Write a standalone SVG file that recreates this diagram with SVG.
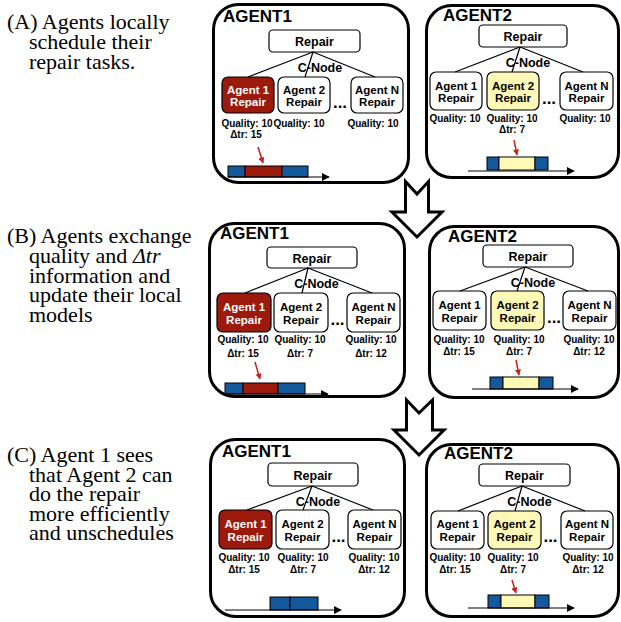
<svg xmlns="http://www.w3.org/2000/svg" width="621" height="622" viewBox="0 0 621 622">
<defs>
<style>
.panel{fill:#fff;stroke:#000;stroke-width:3}
.box{fill:#fff;stroke:#000;stroke-width:1.2}
.red{fill:#9B1A0C}
.yel{fill:#FFF9B8}
.blu{fill:#14599B;stroke:#000;stroke-width:1}
.rb{fill:#9B1A0C;stroke:#000;stroke-width:1}
.yb{fill:#FFF9B8;stroke:#000;stroke-width:1}
.t{font-family:"Liberation Sans",Arial,sans-serif;font-weight:bold;text-anchor:middle;fill:#000}
.ti{font-family:"Liberation Sans",Arial,sans-serif;font-weight:bold;font-size:17px;fill:#000}
.lb{font-size:12.5px}
.nd{font-size:11.5px}
.w{fill:#fff}
.q{font-size:10px}
.dots{font-size:17px}
.cap{font-family:"Liberation Serif","Times New Roman",serif;font-size:22px;fill:#000}
.ln{stroke:#000;stroke-width:1.2;fill:none}
.ax{stroke:#000;stroke-width:1.2;fill:none;marker-end:url(#ah)}
.ra{stroke:#C4221C;stroke-width:1.5;fill:none;marker-end:url(#rh)}
.big{fill:#fff;stroke:#000;stroke-width:3;stroke-linejoin:miter}
</style>
<marker id="ah" viewBox="0 0 10 10" refX="9" refY="5" markerWidth="8" markerHeight="8" markerUnits="userSpaceOnUse" orient="auto">
<path d="M0,0 L10,5 L0,10 Z" fill="#000"/>
</marker>
<marker id="rh" viewBox="0 0 10 10" refX="9" refY="5" markerWidth="6" markerHeight="6" markerUnits="userSpaceOnUse" orient="auto">
<path d="M0,0 L10,5 L0,10 Z" fill="#C4221C"/>
</marker>
</defs>
<rect width="621" height="622" fill="#fff"/>

<g id="captions">
<text class="cap"><tspan x="7" y="29">(A) Agents locally</tspan><tspan x="29" y="49">schedule their</tspan><tspan x="29" y="69">repair tasks.</tspan></text>
<text class="cap"><tspan x="7" y="243">(B) Agents exchange</tspan><tspan x="29" y="263">quality and <tspan font-style="italic">Δtr</tspan></tspan><tspan x="29" y="283">information and</tspan><tspan x="29" y="302">update their local</tspan><tspan x="29" y="322">models</tspan></text>
<text class="cap"><tspan x="7" y="462">(C) Agent 1 sees</tspan><tspan x="29" y="481.5">that Agent 2 can</tspan><tspan x="29" y="501">do the repair</tspan><tspan x="29" y="520.5">more efficiently</tspan><tspan x="29" y="540">and unschedules</tspan></text>
</g>

<!-- Panel A left -->
<g id="panelA1">
<rect class="panel" x="213.5" y="4.5" width="195" height="178" rx="25"/>
<text class="ti" x="223" y="22">AGENT1</text>
<g id="a1-repair"><rect class="box" x="269" y="30" width="91" height="22" rx="4"/><text class="t lb" x="314.5" y="46">Repair</text></g>
<text class="t lb" x="320" y="72">C-Node</text>
<g id="a1-ag1"><rect class="box red" x="222" y="77" width="52" height="36" rx="6"/><text class="t nd w" x="248" y="93.5">Agent 1</text><text class="t nd w" x="248" y="106">Repair</text></g>
<g id="a1-ag2"><rect class="box" x="278" y="77" width="52" height="36" rx="6"/><text class="t nd" x="304" y="93.5">Agent 2</text><text class="t nd" x="304" y="106">Repair</text></g>
<text class="t dots" x="340" y="108">...</text>
<g id="a1-agN"><rect class="box" x="351" y="77" width="52" height="36" rx="6"/><text class="t nd" x="377" y="93.5">Agent N</text><text class="t nd" x="377" y="106">Repair</text></g>
<text class="t q" x="247" y="127">Quality: 10</text>
<text class="t q" x="299" y="127">Quality: 10</text>
<text class="t q" x="373" y="127">Quality: 10</text>
<text class="t q" x="246" y="138">Δtr: 15</text>
<g id="a1-timeline">
<rect class="blu" x="228" y="166" width="17" height="11"/>
<rect class="rb" x="245" y="166" width="37" height="11"/>
<rect class="blu" x="282" y="166" width="26" height="11"/>
</g>
</g>

<!-- Panel A right -->
<g id="panelA2">
<rect class="panel" x="426.5" y="5.5" width="192" height="172" rx="25"/>
<text class="ti" x="443" y="21">AGENT2</text>
<g id="a2-repair"><rect class="box" x="479" y="25" width="88" height="22" rx="4"/><text class="t lb" x="523" y="41">Repair</text></g>
<text class="t lb" x="528" y="67">C-Node</text>
<g id="a2-ag1"><rect class="box" x="430" y="72" width="52" height="38" rx="6"/><text class="t nd" x="456" y="89.5">Agent 1</text><text class="t nd" x="456" y="102">Repair</text></g>
<g id="a2-ag2"><rect class="box yel" x="487" y="72" width="52" height="38" rx="6"/><text class="t nd" x="513" y="89.5">Agent 2</text><text class="t nd" x="513" y="102">Repair</text></g>
<text class="t dots" x="549" y="104">...</text>
<g id="a2-agN"><rect class="box" x="560" y="72" width="53" height="38" rx="6"/><text class="t nd" x="586.5" y="89.5">Agent N</text><text class="t nd" x="586.5" y="102">Repair</text></g>
<text class="t q" x="455" y="122">Quality: 10</text>
<text class="t q" x="512" y="122">Quality: 10</text>
<text class="t q" x="585" y="122">Quality: 10</text>
<text class="t q" x="512" y="133">Δtr: 7</text>
<g id="a2-timeline">
<rect class="blu" x="487" y="157" width="12" height="13"/>
<rect class="yb" x="499" y="157" width="36" height="13"/>
<rect class="blu" x="535" y="157" width="13" height="13"/>
</g>
</g>

<!-- Panel B left -->
<g id="panelB1">
<rect class="panel" x="209.5" y="223.5" width="195" height="173" rx="25"/>
<text class="ti" x="220" y="239">AGENT1</text>
<g id="b1-repair"><rect class="box" x="267" y="247" width="90" height="21" rx="4"/><text class="t lb" x="312" y="262.5">Repair</text></g>
<text class="t lb" x="316.5" y="288">C-Node</text>
<g id="b1-ag1"><rect class="box red" x="217" y="293" width="54" height="39" rx="6"/><text class="t nd w" x="244" y="311">Agent 1</text><text class="t nd w" x="244" y="324">Repair</text></g>
<g id="b1-ag2"><rect class="box" x="274" y="293" width="54" height="39" rx="6"/><text class="t nd" x="301" y="311">Agent 2</text><text class="t nd" x="301" y="324">Repair</text></g>
<text class="t dots" x="337.5" y="325">...</text>
<g id="b1-agN"><rect class="box" x="347" y="293" width="53" height="39" rx="6"/><text class="t nd" x="373.5" y="311">Agent N</text><text class="t nd" x="373.5" y="324">Repair</text></g>
<text class="t q" x="243" y="343">Quality: 10</text>
<text class="t q" x="300" y="343">Quality: 10</text>
<text class="t q" x="371" y="343">Quality: 10</text>
<text class="t q" x="243" y="357">Δtr: 15</text>
<text class="t q" x="300" y="357">Δtr: 7</text>
<text class="t q" x="371" y="357">Δtr: 12</text>
<g id="b1-timeline">
<rect class="blu" x="225" y="383" width="18" height="11"/>
<rect class="rb" x="243" y="383" width="35" height="11"/>
<rect class="blu" x="278" y="383" width="27" height="11"/>
</g>
</g>

<!-- Panel B right -->
<g id="panelB2">
<rect class="panel" x="429.5" y="226.5" width="189" height="171" rx="25"/>
<text class="ti" x="448" y="242">AGENT2</text>
<g id="b2-repair"><rect class="box" x="483" y="245" width="90" height="22" rx="4"/><text class="t lb" x="528" y="261">Repair</text></g>
<text class="t lb" x="533" y="287">C-Node</text>
<g id="b2-ag1"><rect class="box" x="433" y="291" width="53" height="39" rx="6"/><text class="t nd" x="459.5" y="309">Agent 1</text><text class="t nd" x="459.5" y="322">Repair</text></g>
<g id="b2-ag2"><rect class="box yel" x="491" y="291" width="53" height="39" rx="6"/><text class="t nd" x="517.5" y="309">Agent 2</text><text class="t nd" x="517.5" y="322">Repair</text></g>
<text class="t dots" x="554" y="323">...</text>
<g id="b2-agN"><rect class="box" x="563" y="291" width="53" height="39" rx="6"/><text class="t nd" x="589.5" y="309">Agent N</text><text class="t nd" x="589.5" y="322">Repair</text></g>
<text class="t q" x="459" y="343">Quality: 10</text>
<text class="t q" x="519" y="343">Quality: 10</text>
<text class="t q" x="589" y="343">Quality: 10</text>
<text class="t q" x="459" y="355">Δtr: 15</text>
<text class="t q" x="519" y="355">Δtr: 7</text>
<text class="t q" x="589" y="355">Δtr: 12</text>
<g id="b2-timeline">
<rect class="blu" x="490" y="377" width="13" height="12"/>
<rect class="yb" x="503" y="377" width="36" height="12"/>
<rect class="blu" x="539" y="377" width="14" height="12"/>
</g>
</g>

<!-- Panel C left -->
<g id="panelC1">
<rect class="panel" x="210.5" y="439.5" width="194" height="177" rx="25"/>
<text class="ti" x="222" y="457">AGENT1</text>
<g id="c1-repair"><rect class="box" x="268" y="463" width="90" height="23" rx="4"/><text class="t lb" x="313" y="479.5">Repair</text></g>
<text class="t lb" x="318" y="506">C-Node</text>
<g id="c1-ag1"><rect class="box red" x="219" y="510" width="53" height="39" rx="6"/><text class="t nd w" x="245.5" y="528">Agent 1</text><text class="t nd w" x="245.5" y="541">Repair</text></g>
<g id="c1-ag2"><rect class="box" x="276" y="510" width="53" height="39" rx="6"/><text class="t nd" x="302.5" y="528">Agent 2</text><text class="t nd" x="302.5" y="541">Repair</text></g>
<text class="t dots" x="338.5" y="542">...</text>
<g id="c1-agN"><rect class="box" x="348" y="510" width="53" height="39" rx="6"/><text class="t nd" x="374.5" y="528">Agent N</text><text class="t nd" x="374.5" y="541">Repair</text></g>
<text class="t q" x="244" y="561">Quality: 10</text>
<text class="t q" x="303" y="561">Quality: 10</text>
<text class="t q" x="374" y="561">Quality: 10</text>
<text class="t q" x="244" y="573">Δtr: 15</text>
<text class="t q" x="303" y="573">Δtr: 7</text>
<text class="t q" x="374" y="573">Δtr: 12</text>
<g id="c1-timeline">
<rect class="blu" x="270" y="597" width="20" height="13"/>
<rect class="blu" x="290" y="597" width="28" height="13"/>
</g>
</g>

<!-- Panel C right -->
<g id="panelC2">
<rect class="panel" x="426.5" y="444.5" width="192" height="172" rx="25"/>
<text class="ti" x="444" y="459">AGENT2</text>
<g id="c2-repair"><rect class="box" x="479" y="464" width="91" height="22" rx="4"/><text class="t lb" x="524.5" y="480">Repair</text></g>
<text class="t lb" x="529.5" y="506">C-Node</text>
<g id="c2-ag1"><rect class="box" x="431" y="511" width="53" height="38" rx="6"/><text class="t nd" x="457.5" y="528">Agent 1</text><text class="t nd" x="457.5" y="541">Repair</text></g>
<g id="c2-ag2"><rect class="box yel" x="488" y="511" width="53" height="38" rx="6"/><text class="t nd" x="514.5" y="528">Agent 2</text><text class="t nd" x="514.5" y="541">Repair</text></g>
<text class="t dots" x="550.5" y="542">...</text>
<g id="c2-agN"><rect class="box" x="561" y="511" width="52" height="38" rx="6"/><text class="t nd" x="587" y="528">Agent N</text><text class="t nd" x="587" y="541">Repair</text></g>
<text class="t q" x="455" y="561">Quality: 10</text>
<text class="t q" x="513" y="561">Quality: 10</text>
<text class="t q" x="588" y="561">Quality: 10</text>
<text class="t q" x="455" y="573">Δtr: 15</text>
<text class="t q" x="513" y="573">Δtr: 7</text>
<text class="t q" x="588" y="573">Δtr: 12</text>
<g id="c2-timeline">
<rect class="blu" x="488" y="595" width="13" height="13"/>
<rect class="yb" x="501" y="595" width="34" height="13"/>
<rect class="blu" x="535" y="595" width="14" height="13"/>
</g>
</g>

<g id="connectors">
<path class="ln" d="M313,52 L248,77 M313,52 L305,77 M313,52 L375,77"/>
<path class="ln" d="M520,47 L455,72 M520,47 L512,72 M520,47 L583,72"/>
<path class="ln" d="M308,268 L245,293 M308,268 L302,293 M308,268 L372,293"/>
<path class="ln" d="M525,267 L460,291 M525,267 L517,291 M525,267 L588,291"/>
<path class="ln" d="M312,486 L247,510 M312,486 L303,510 M312,486 L373,510"/>
<path class="ln" d="M522,486 L458,511 M522,486 L515,511 M522,486 L585,511"/>
<line class="ax" x1="228" y1="177" x2="329" y2="177"/>
<line class="ax" x1="468" y1="171" x2="574" y2="171"/>
<line class="ax" x1="225" y1="394" x2="328" y2="394"/>
<line class="ax" x1="472" y1="389" x2="578" y2="389"/>
<line class="ax" x1="225" y1="610" x2="341" y2="610"/>
<line class="ax" x1="468" y1="608" x2="574" y2="608"/>
<line class="ra" x1="258" y1="147" x2="263" y2="163"/>
<line class="ra" x1="514" y1="140" x2="517" y2="155"/>
<line class="ra" x1="255" y1="362" x2="260" y2="379"/>
<line class="ra" x1="516" y1="360" x2="519" y2="375"/>
<line class="ra" x1="512" y1="580" x2="516" y2="593"/>
<path class="big" d="M405.5,181.5 L417,194 L428.5,181.5 L428.5,212 L442,212 L417,237 L392,212 L405.5,212 Z"/>
<path class="big" d="M406.5,400 L419,413 L432.5,400 L432.5,430 L444,430 L419,455 L394,430 L406.5,430 Z"/>
</g>
</svg>
